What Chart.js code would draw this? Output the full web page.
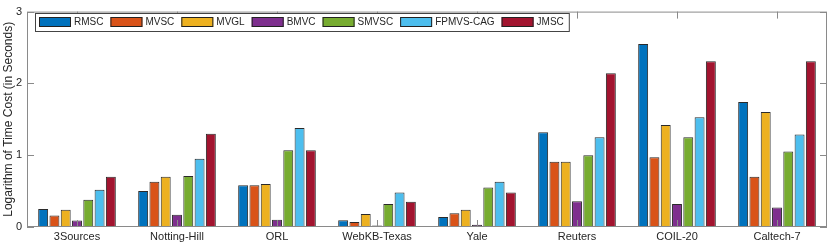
<!DOCTYPE html>
<html>
<head>
<meta charset="utf-8">
<script src="https://cdn.jsdelivr.net/npm/chart.js@4.4.0/dist/chart.umd.min.js"></script>
<style>
  html, body { margin: 0; padding: 0; background: #fff; }
  #wrap { width: 830px; height: 246px; }
</style>
</head>
<body>
<div id="wrap"><canvas id="timeChart" width="830" height="246"></canvas></div>
<script>
// categories and tick labels
const datasetNames = ['3Sources', 'Notting-Hill', 'ORL', 'WebKB-Texas', 'Yale', 'Reuters', 'COIL-20', 'Caltech-7'];
const yTicks = [0, 1, 2, 3];

// log time cost per method
const rmsc     = [0.25, 0.50, 0.58, 0.095, 0.14, 1.32, 2.55, 1.74];
const mvsc     = [0.16, 0.63, 0.58, 0.07, 0.19, 0.91, 0.97, 0.70];
const mvgl     = [0.24, 0.70, 0.60, 0.18, 0.24, 0.91, 1.42, 1.60];
const bmvc     = [0.09, 0.17, 0.10, 0.02, 0.03, 0.36, 0.32, 0.27];
const smvsc    = [0.38, 0.71, 1.07, 0.32, 0.55, 1.00, 1.25, 1.05];
const fpmvsCag = [0.52, 0.95, 1.38, 0.48, 0.63, 1.25, 1.53, 1.29];
const jmsc     = [0.70, 1.30, 1.07, 0.35, 0.48, 2.14, 2.31, 2.31];

const methodNames = ['RMSC', 'MVSC', 'MVGL', 'BMVC', 'SMVSC', 'FPMVS-CAG', 'JMSC'];
const methodValues = [rmsc, mvsc, mvgl, bmvc, smvsc, fpmvsCag, jmsc];
const methodColors = ['#0072BD', '#D95319', '#EDB120', '#7E2F8E', '#77AC30', '#4DBEEE', '#A2142F'];

const fontName = '"Liberation Sans", Arial, Helvetica, sans-serif';
const axisGray = '#8a8a8a';
const textGray = '#262626';

// draws the matlab style box, inward ticks and the in-plot legend
const boxPlugin = {
    id: 'boxPlugin',
    afterDraw(chart) {
        const ctx = chart.ctx;
        const area = chart.chartArea;
        const xScale = chart.scales.x;
        const yScale = chart.scales.y;

        ctx.save();
        ctx.strokeStyle = axisGray;
        ctx.lineWidth = 1;
        ctx.strokeRect(area.left + 0.5, area.top + 0.5, area.right - area.left - 1, area.bottom - area.top - 1);

        ctx.beginPath();
        datasetNames.forEach((name, i) => {
            const x = Math.round(xScale.getPixelForValue(i)) + 0.5;
            ctx.moveTo(x, area.top);
            ctx.lineTo(x, area.top + 7);
            ctx.moveTo(x, area.bottom);
            ctx.lineTo(x, area.bottom - 7);
        });
        yTicks.forEach(v => {
            const y = Math.round(yScale.getPixelForValue(v)) + 0.5;
            ctx.moveTo(area.left, y);
            ctx.lineTo(area.left + 7, y);
            ctx.moveTo(area.right, y);
            ctx.lineTo(area.right - 7, y);
        });
        ctx.stroke();

        // legend
        ctx.font = '10px ' + fontName;
        ctx.textBaseline = 'middle';
        const boxX = 35, boxY = 13, boxH = 18;
        const swatchW = 32, swatchH = 10;
        let x = boxX + 4;
        const positions = [];
        chart.data.datasets.forEach(ds => {
            positions.push(x);
            x += swatchW + 3 + ctx.measureText(ds.label).width + 7;
        });
        const boxW = x - boxX - 2;
        ctx.fillStyle = '#fff';
        ctx.fillRect(boxX, boxY, boxW, boxH);
        ctx.strokeStyle = '#444';
        ctx.strokeRect(boxX + 0.5, boxY + 0.5, boxW, boxH);
        chart.data.datasets.forEach((ds, i) => {
            const sx = positions[i];
            const sy = boxY + (boxH - swatchH) / 2;
            ctx.fillStyle = ds.backgroundColor;
            ctx.fillRect(sx, sy, swatchW, swatchH);
            ctx.strokeStyle = '#222';
            ctx.strokeRect(sx + 0.5, sy + 0.5, swatchW - 1, swatchH - 1);
            ctx.fillStyle = textGray;
            ctx.fillText(ds.label, sx + swatchW + 3, boxY + boxH / 2 + 0.5);
        });
        ctx.restore();
    }
};

const timeChart = new Chart(document.getElementById('timeChart').getContext('2d'), {
    type: 'bar',
    data: {
        labels: datasetNames,
        datasets: methodNames.map((name, i) => ({
            label: name,
            data: methodValues[i],
            backgroundColor: methodColors[i],
            borderColor: '#2a2a2a',
            borderWidth: 1,
            borderSkipped: 'bottom'
        }))
    },
    options: {
        responsive: false,
        animation: false,
        layout: { padding: { top: 7, right: 3, bottom: 0, left: 0 } },
        plugins: {
            legend: { display: false },
            tooltip: { enabled: false }
        },
        datasets: {
            bar: { categoryPercentage: 0.79, barPercentage: 0.88 }
        },
        scales: {
            x: {
                grid: { display: false, drawTicks: false },
                border: { display: false },
                ticks: {
                    color: textGray,
                    font: { family: fontName, size: 11 },
                    padding: 3,
                    maxRotation: 0
                },
                afterFit(scale) { scale.height = 19; }
            },
            y: {
                min: 0,
                max: 3,
                grid: { display: false, drawTicks: false },
                border: { display: false },
                afterBuildTicks(scale) { scale.ticks = yTicks.map(v => ({ value: v })); },
                ticks: {
                    color: textGray,
                    font: { family: fontName, size: 11 },
                    padding: 5
                },
                title: {
                    display: true,
                    text: 'Logarithm of Time Cost (in Seconds)',
                    color: textGray,
                    font: { family: fontName, size: 12 },
                    padding: { top: 1, bottom: 0 }
                },
                afterFit(scale) { scale.width = 27; }
            }
        }
    },
    plugins: [boxPlugin]
});
</script>
</body>
</html>
